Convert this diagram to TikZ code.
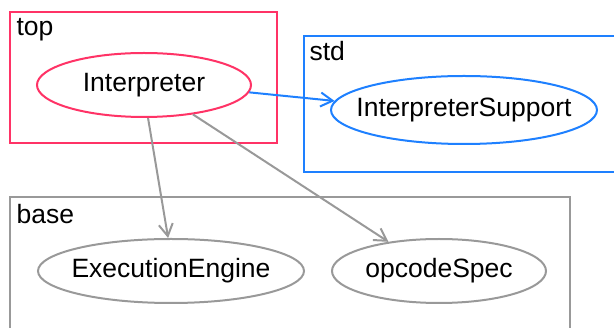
\documentclass[tikz,border=0pt]{standalone}
\usepackage{fontspec}
\setsansfont{Liberation Sans}
\usetikzlibrary{arrows.meta, positioning, calc, shapes.geometric}
\definecolor{PkgRed}{RGB}{255,51,102}
\definecolor{PkgBlue}{RGB}{30,128,255}
\definecolor{PkgGray}{RGB}{153,153,153}
\newcommand{\unitname}[1]{\makebox[0pt]{#1}}

\begin{document}
\begin{tikzpicture}[
    x=1pt, y=-1pt,
    font=\sffamily\fontsize{26.5}{30}\selectfont,
    cluster/.style={draw, line width=2pt, inner sep=0pt},
    unit/.style={ellipse, draw, line width=2pt, inner sep=0pt, minimum height=64pt},
    dep/.style={-{Straight Barb[length=12pt, width=14pt]}, line width=2pt},
]
\clip (0,0) rectangle (614,328);

% ---- top ----
\node[cluster, draw=PkgRed, minimum width=267pt, minimum height=131pt] (top) at (143.5,77.5) {};
\node[anchor=base west] (topLbl) at ($(top.north west)+(4,25)$) {top};
\node[unit, draw=PkgRed, minimum width=214pt] (interp) at (144,85) {\unitname{Interpreter}};

% ---- std ----
\node[cluster, draw=PkgBlue, minimum width=336pt, minimum height=136pt] (std) at (472,104) {};
\node[anchor=base west] (stdLbl) at ($(std.north west)+(3,26)$) {std};
\node[unit, draw=PkgBlue, minimum width=266pt, minimum height=68pt] (isup) at (464,110) {\unitname{InterpreterSupport}};

% ---- base ----
\node[cluster, draw=PkgGray, minimum width=560pt, minimum height=153pt] (base) at (290,273.5) {};
\node[anchor=base west] (baseLbl) at ($(base.north west)+(4,28)$) {base};
\node[unit, draw=PkgGray, minimum width=266pt] (exec) at (171,271) {\unitname{ExecutionEngine}};
\node[unit, draw=PkgGray, minimum width=214pt] (opspec) at (439,271) {\unitname{opcodeSpec}};

% dependencies
\draw[dep, PkgBlue] (interp.356) -- (isup.176);
\draw[dep, PkgGray] (interp.277) -- (exec.95);
\draw[dep, PkgGray] (interp.329) -- (opspec.150);

\end{tikzpicture}
\end{document}
